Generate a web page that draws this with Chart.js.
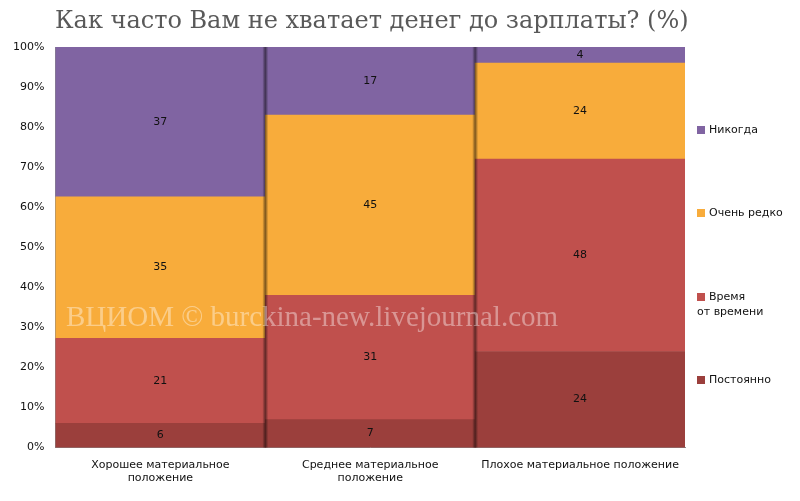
<!DOCTYPE html>
<html><head><meta charset="utf-8">
<script src="https://cdn.jsdelivr.net/npm/chart.js@4/dist/chart.umd.min.js"></script>
<style>body{margin:0;background:#fff}#w{width:800px;height:501px}</style>
</head><body><div id="w"><canvas id="c"></canvas></div>
<script>
const categories = [["Хорошее материальное", "положение"], ["Среднее материальное", "положение"], "Плохое материальное положение"];
const seriesNames = ["Постоянно", "Время от времени", "Очень редко", "Никогда"];
const legendNames = [["Постоянно"], ["Время", "от времени"], ["Очень редко"], ["Никогда"]];
const postoyanno = [6, 7, 24];
const vremya = [21, 31, 48];
const redko = [35, 45, 24];
const nikogda = [37, 17, 4];
const colors = ["#9B3F3C", "#C0504D", "#F8AC3B", "#8064A2"];

const raw = [postoyanno, vremya, redko, nikogda];
const totals = categories.map((_, j) => raw.reduce((s, d) => s + d[j], 0));

const extras = {
  id: "extras",
  afterDatasetsDraw(chart) {
    const ctx = chart.ctx, a = chart.chartArea;
    ctx.save();
    ctx.font = "11px 'DejaVu Sans'";
    ctx.fillStyle = "#111";
    ctx.textAlign = "center"; ctx.textBaseline = "middle";
    chart.data.datasets.forEach((ds, i) => {
      chart.getDatasetMeta(i).data.forEach((bar, j) => {
        const p = bar.getProps(["x", "y", "base"], true);
        ctx.fillText(raw[i][j], p.x, (p.y + p.base) / 2);
      });
    });
    const meta = chart.getDatasetMeta(0).data;
    for (let j = 0; j < meta.length - 1; j++) {
      const x = (meta[j].x + meta[j + 1].x) / 2;
      const g = ctx.createLinearGradient(x - 3, 0, x + 3, 0);
      g.addColorStop(0, "rgba(0,0,0,0)"); g.addColorStop(0.5, "rgba(0,0,0,0.5)"); g.addColorStop(1, "rgba(0,0,0,0)");
      ctx.fillStyle = g;
      ctx.fillRect(x - 3, a.top, 6, a.bottom - a.top);
    }
    ctx.font = "29px 'Liberation Serif'";
    ctx.fillStyle = "rgba(255,255,255,0.4)";
    ctx.textAlign = "left";
    ctx.fillText("ВЦИОМ © burckina-new.livejournal.com", 66, 318);
    ctx.font = "24px 'DejaVu Serif'";
    ctx.fillStyle = "#595959";
    ctx.fillText("Как часто Вам не хватает денег до зарплаты? (%)", 55, 22);
    ctx.font = "11px 'DejaVu Sans'";
    const ys = [380, 297, 213, 130];
    legendNames.forEach((n, i) => {
      ctx.fillStyle = colors[i];
      ctx.fillRect(697, ys[i] - 4, 8, 8);
      ctx.fillStyle = "#111";
      n.forEach((t, k) => ctx.fillText(t, k ? 697 : 709, ys[i] + k * 15));
    });
    ctx.restore();
  }
};

new Chart(document.getElementById("c"), {
  type: "bar",
  data: {
    labels: categories,
    datasets: raw.map((d, i) => ({
      label: seriesNames[i], data: d.map((v, j) => v / totals[j] * 100), backgroundColor: colors[i],
      barPercentage: 1, categoryPercentage: 1
    }))
  },
  options: {
    responsive: true, maintainAspectRatio: false, animation: false,
    layout: { padding: { top: 47, right: 115, left: 10, bottom: 13 } },
    plugins: { legend: { display: false }, tooltip: { enabled: false } },
    scales: {
      x: { stacked: true, grid: { display: false },
           border: { color: "#888" },
           ticks: { autoSkip: false, color: "#111", font: { size: 11, family: "DejaVu Sans" }, maxRotation: 0 } },
      y: { stacked: true, min: 0, max: 100,
           grid: { display: false }, border: { color: "#888" },
           ticks: { stepSize: 10, color: "#111", font: { size: 11, family: "DejaVu Sans" }, callback: v => v + "%" } }
    }
  },
  plugins: [extras]
});
</script></body></html>
